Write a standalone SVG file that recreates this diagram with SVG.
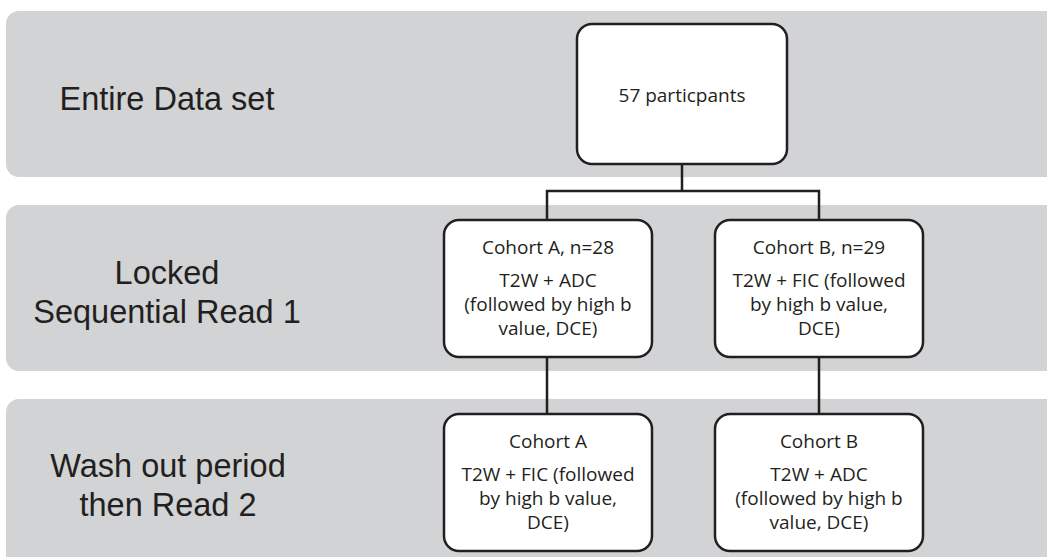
<svg xmlns="http://www.w3.org/2000/svg" width="1047" height="557" viewBox="0 0 1047 557">
<style>
.band{fill:#d1d3d4}
.box{fill:#fff;stroke:#231f20;stroke-width:2.5}
.lbl{font-family:"Liberation Sans","Open Sans",sans-serif;font-size:32.5px;fill:#231f20;text-anchor:middle}
.t{font-family:"Open Sans","Liberation Sans",sans-serif;font-size:19px;fill:#231f20;text-anchor:middle}
.c{fill:none;stroke:#231f20;stroke-width:2.5}
</style>
<rect width="1047" height="557" fill="#fff"/>
<g id="bands">
<rect class="band" x="6" y="11" width="1060" height="166" rx="13"/>
<rect class="band" x="6" y="205" width="1060" height="166" rx="13"/>
<rect class="band" x="6" y="399" width="1060" height="170" rx="13"/>
<text class="lbl" x="167" y="110">Entire Data set</text>
<text class="lbl" x="167" y="284">Locked</text>
<text class="lbl" x="167" y="323">Sequential Read 1</text>
<text class="lbl" x="168" y="477">Wash out period</text>
<text class="lbl" x="168" y="516">then Read 2</text>
</g>
<g id="connectors">
<path class="c" d="M682 164V191M547 220V191H819V220"/>
<path class="c" d="M547 357V414M819 357V414"/>
</g>
<g id="n-all">
<rect class="box" x="577" y="24" width="210" height="140" rx="15"/>
<text class="t" x="682" y="102">57 particpants</text>
</g>
<g id="n-a1">
<rect class="box" x="444" y="220" width="208" height="137" rx="15"/>
<text class="t" x="548" y="254">Cohort A, n=28</text>
<text class="t" x="548" y="287">T2W + ADC</text>
<text class="t" x="548" y="311">(followed by high b</text>
<text class="t" x="548" y="335">value, DCE)</text>
</g>
<g id="n-b1">
<rect class="box" x="715" y="220" width="208" height="137" rx="15"/>
<text class="t" x="819" y="254">Cohort B, n=29</text>
<text class="t" x="819" y="287">T2W + FIC (followed</text>
<text class="t" x="819" y="311">by high b value,</text>
<text class="t" x="819" y="335">DCE)</text>
</g>
<g id="n-a2">
<rect class="box" x="444" y="414" width="208" height="137" rx="15"/>
<text class="t" x="548" y="448">Cohort A</text>
<text class="t" x="548" y="481">T2W + FIC (followed</text>
<text class="t" x="548" y="505">by high b value,</text>
<text class="t" x="548" y="529">DCE)</text>
</g>
<g id="n-b2">
<rect class="box" x="715" y="414" width="208" height="137" rx="15"/>
<text class="t" x="819" y="448">Cohort B</text>
<text class="t" x="819" y="481">T2W + ADC</text>
<text class="t" x="819" y="505">(followed by high b</text>
<text class="t" x="819" y="529">value, DCE)</text>
</g>
</svg>
